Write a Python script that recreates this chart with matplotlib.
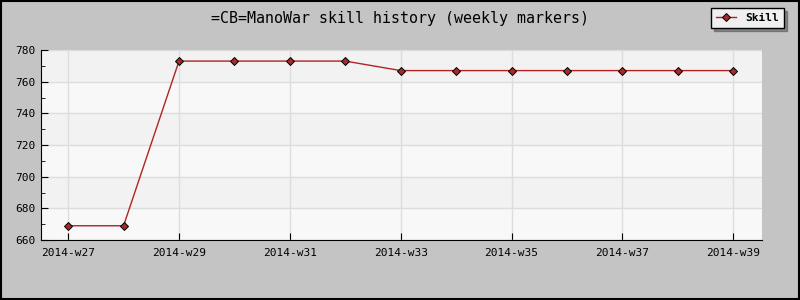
import matplotlib
matplotlib.use('Agg')
import matplotlib.pyplot as plt
import numpy as np

weeks = ['2014-w27', '2014-w28', '2014-w29', '2014-w30', '2014-w31', '2014-w32', '2014-w33',
         '2014-w34', '2014-w35', '2014-w36', '2014-w37', '2014-w38', '2014-w39']
skill = [669, 669, 773, 773, 773, 773, 767, 767, 767, 767, 767, 767, 767]

plt.rcParams['font.family'] = 'DejaVu Sans Mono'

fig = plt.figure(figsize=(8, 3), dpi=100, facecolor='#c4c4c4')
# outer border
fig.patches.append(plt.Rectangle((0.001, 0.003), 0.998, 0.994, transform=fig.transFigure,
                                 fill=False, edgecolor='black', linewidth=1.5))
ax = fig.add_axes([41/800, 1 - 240/300, (762-41)/800, 190/300])
ax.set_facecolor('#f8f8f8')

x = np.arange(len(weeks))
ax.set_xlim(-0.49, 12.52)
ax.set_ylim(660, 780)

# alternating bands
for lo in range(660, 780, 40):
    ax.axhspan(lo + 20, lo + 40, color='#f2f2f2', zorder=0)

ax.set_yticks(np.arange(660, 781, 20))
ax.set_yticks(np.arange(660, 781, 10), minor=True)
ax.set_xticks(x[::2])
ax.set_xticklabels(weeks[::2])
ax.set_xticks(x, minor=True)
ax.grid(True, which='major', color='#dddddd', linewidth=1, zorder=1)

ax.plot(x, skill, color='#b22222', linewidth=1, marker='D', markersize=4,
        markerfacecolor='#a52a2a', markeredgecolor='black', markeredgewidth=0.7,
        label='Skill', zorder=3)

for s in ['top', 'right']:
    ax.spines[s].set_visible(False)
ax.tick_params(axis='both', labelsize=8, direction='in', length=5, pad=4)
ax.tick_params(axis='y', which='minor', direction='in', length=3)
ax.tick_params(axis='x', which='minor', length=0)
ax.tick_params(axis='x', pad=6)

fig.text(0.5, 1 - 19/300, '=CB=ManoWar skill history (weekly markers)', ha='center', va='center',
         fontsize=10.8)

leg = ax.legend(loc='upper right', bbox_to_anchor=(784/800, 1 - 8/300),
                bbox_transform=fig.transFigure, fontsize=8, fancybox=False,
                shadow=True, framealpha=1, edgecolor='black', handlelength=1.8,
                borderpad=0.45, borderaxespad=0)
leg.get_frame().set_facecolor('#f0f0f0')
for t in leg.get_texts():
    t.set_fontweight('bold')

fig.savefig('out.png', dpi=100, facecolor=fig.get_facecolor())
